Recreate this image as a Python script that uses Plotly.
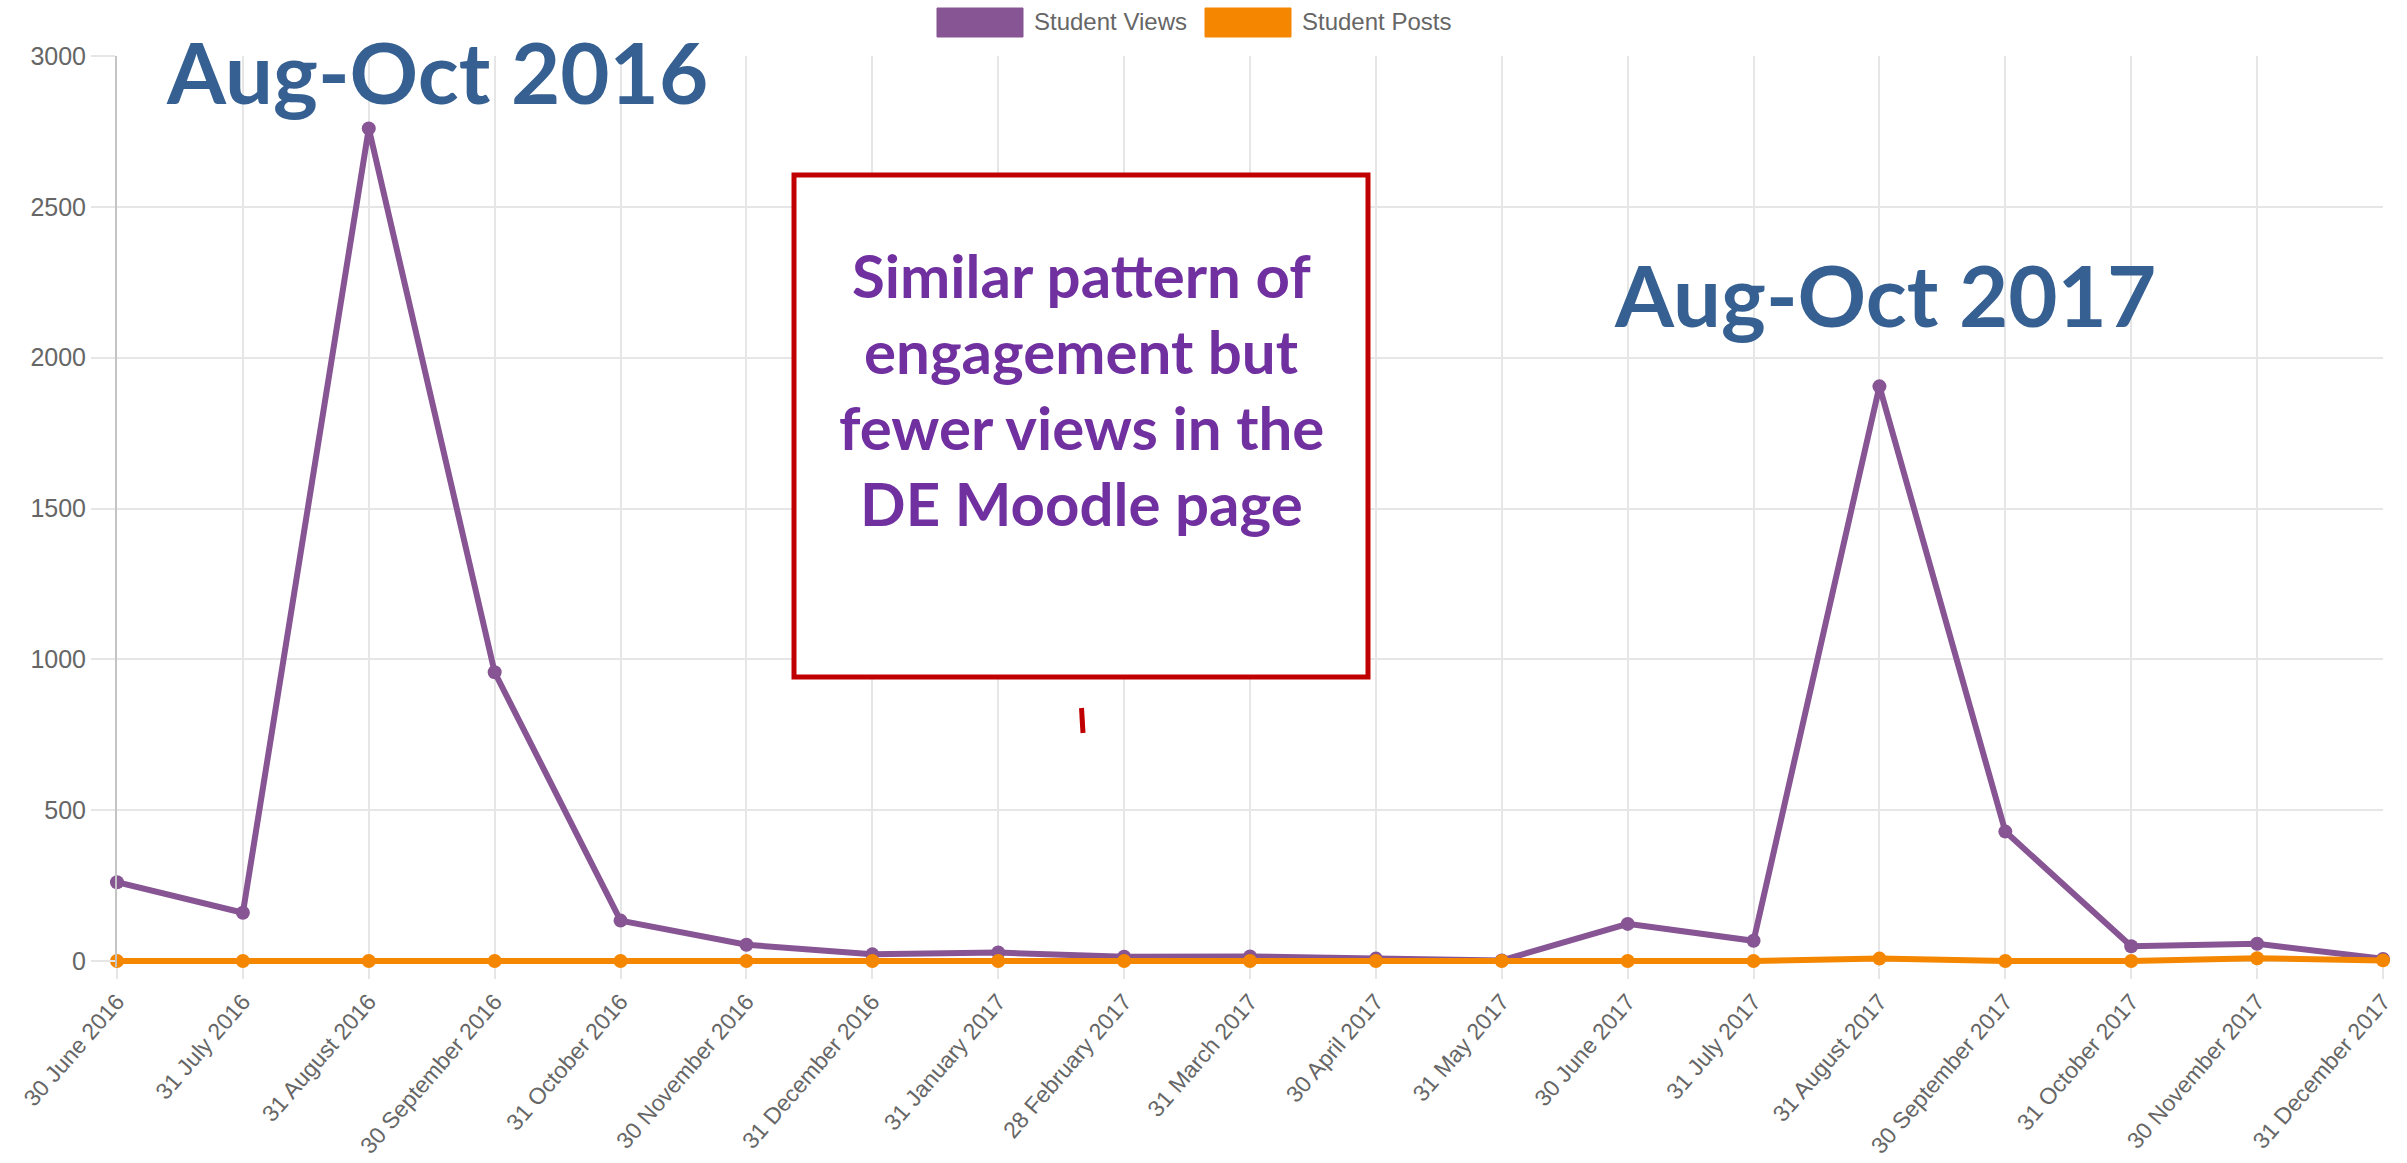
import plotly.graph_objects as go

# ---------------- data ----------------
categories = ["30 June 2016", "31 July 2016", "31 August 2016", "30 September 2016",
              "31 October 2016", "30 November 2016", "31 December 2016", "31 January 2017",
              "28 February 2017", "31 March 2017", "30 April 2017", "31 May 2017",
              "30 June 2017", "31 July 2017", "31 August 2017", "30 September 2017",
              "31 October 2017", "30 November 2017", "31 December 2017"]
student_views = [261, 160, 2760, 957, 134, 54, 22, 28, 14, 15, 8, 2,
                 123, 67, 1905, 429, 49, 57, 7]
student_posts = [0, 0, 0, 0, 0, 0, 0, 0, 0, 0, 0, 0,
                 0, 0, 8, 0, 0, 9, 2]
y_ticks = [0, 500, 1000, 1500, 2000, 2500, 3000]
series_names = ["Student Views", "Student Posts"]
note_lines = ["Similar pattern of", "engagement but", "fewer views in the", "DE Moodle page"]
period_labels = ["Aug-Oct 2016", "Aug-Oct 2017"]

# ---------------- layout constants ----------------
W, H = 2407, 1163
ML, MR, MT = 117, 24, 56
ZERO_Y = 961          # pixel row of the value 0
EXTRA = 6             # plot area extends a few px below 0 so the 0-line is not clipped
MB = H - ZERO_Y - EXTRA
PW, PH = W - ML - MR, H - MT - MB
Y_MAX = 3000
Y_MIN = -EXTRA * Y_MAX / (ZERO_Y - MT)

PURPLE = "#875593"
ORANGE = "#F58700"
GRID = "#e6e6e6"
TICK = "#666666"


def px(x):
    return (x - ML) / PW


def py(y):
    return (H - MB - y) / PH


fig = go.Figure()
fig.add_trace(go.Scatter(
    x=categories, y=student_views, name=series_names[0], mode="lines+markers",
    line=dict(color=PURPLE, width=6), marker=dict(color=PURPLE, size=14),
    cliponaxis=False, showlegend=False))
fig.add_trace(go.Scatter(
    x=categories, y=student_posts, name=series_names[1], mode="lines+markers",
    line=dict(color=ORANGE, width=6), marker=dict(color=ORANGE, size=14),
    cliponaxis=False, showlegend=False))

shapes = []
annotations = []

# custom legend (boxes + labels)
legend_items = [(937, series_names[0], PURPLE), (1205, series_names[1], ORANGE)]
for x0, name, col in legend_items:
    shapes.append(dict(type="rect", xref="paper", yref="paper",
                       x0=px(x0), x1=px(x0 + 86), y0=py(8), y1=py(37),
                       fillcolor=col, line=dict(color=col, width=1), layer="above"))
    annotations.append(dict(text=name, xref="paper", yref="paper",
                            x=px(x0 + 95), y=py(21), xanchor="left", yanchor="middle",
                            showarrow=False,
                            font=dict(family="Liberation Sans, Arial", size=24, color=TICK)))

# red note box
shapes.append(dict(type="rect", xref="paper", yref="paper",
                   x0=px(794), x1=px(1368), y0=py(175), y1=py(677),
                   fillcolor="white", line=dict(color="#C00000", width=5), layer="above"))
shapes.append(dict(type="line", xref="paper", yref="paper",
                   x0=px(1081.5), x1=px(1083), y0=py(708), y1=py(733),
                   line=dict(color="#C00000", width=5), layer="above"))

fs_note = 60
for i, line in enumerate(note_lines):
    base = 298 + i * 76
    annotations.append(dict(text="<b>%s</b>" % line, xref="paper", yref="paper",
                            x=px(1081), y=py(base - 0.387 * fs_note),
                            xanchor="center", yanchor="middle", showarrow=False,
                            font=dict(family="Lato", size=fs_note, color="#7030A0")))

fs_big = 85
for (cx, base), txt in zip([(437, 104), (1885, 327)], period_labels):
    annotations.append(dict(text="<b>%s</b>" % txt, xref="paper", yref="paper",
                            x=px(cx), y=py(base - 0.387 * fs_big),
                            xanchor="center", yanchor="middle", showarrow=False,
                            font=dict(family="Lato", size=fs_big, color="#366092")))

fig.update_layout(
    width=W, height=H, autosize=False,
    margin=dict(l=ML, r=MR, t=MT, b=MB, pad=0, autoexpand=False),
    paper_bgcolor="white", plot_bgcolor="white",
    showlegend=False,
    shapes=shapes, annotations=annotations,
    xaxis=dict(type="category", range=[0, len(categories) - 1], automargin=False,
               showgrid=True, gridcolor=GRID, gridwidth=1.5,
               ticks="outside", ticklen=11, tickcolor=GRID, tickwidth=1.5,
               tickangle=-49, showline=False, zeroline=False,
               tickfont=dict(family="Liberation Sans, Arial", size=23, color=TICK)),
    yaxis=dict(range=[Y_MIN, Y_MAX], tickvals=y_ticks, automargin=False,
               showgrid=True, gridcolor=GRID, gridwidth=1.5,
               ticks="outside", ticklen=24, tickcolor=GRID, tickwidth=1.5,
               showline=True, linecolor="#c4c4c4", linewidth=2, zeroline=False,
               tickfont=dict(family="Liberation Sans, Arial", size=25, color=TICK)),
)

fig.write_html("out.html", config={"displayModeBar": False})
